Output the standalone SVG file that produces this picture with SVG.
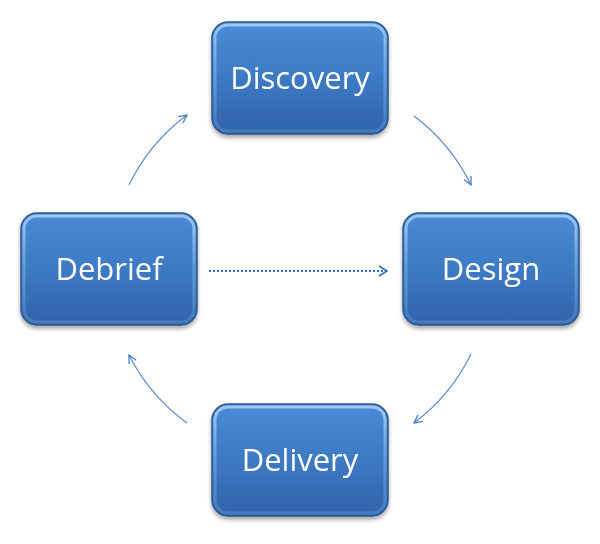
<svg xmlns="http://www.w3.org/2000/svg" width="600" height="544" viewBox="0 0 600 544">
<defs>
<linearGradient id="fill" x1="0" y1="0" x2="0" y2="1">
<stop offset="0" stop-color="#4a8ad6"/>
<stop offset="0.5" stop-color="#3d7ac4"/>
<stop offset="1" stop-color="#3063a9"/>
</linearGradient>
<linearGradient id="bevel" x1="0" y1="0" x2="0" y2="1">
<stop offset="0" stop-color="#a6cdf2" stop-opacity="0.9"/>
<stop offset="0.5" stop-color="#78aee6" stop-opacity="0.6"/>
<stop offset="1" stop-color="#5a90d0" stop-opacity="0.5"/>
</linearGradient>
<filter id="sh" x="-10%" y="-10%" width="120%" height="130%">
<feGaussianBlur in="SourceAlpha" stdDeviation="2"/>
<feOffset dy="3" result="b"/>
<feComponentTransfer><feFuncA type="linear" slope="0.35"/></feComponentTransfer>
<feMerge><feMergeNode/><feMergeNode in="SourceGraphic"/></feMerge>
</filter>
<marker id="arr" viewBox="0 0 10 10" refX="9" refY="5" markerWidth="10" markerHeight="10" markerUnits="userSpaceOnUse" orient="auto">
<path d="M1,1 L9,5 L1,9" fill="none" stroke="#4a7ec2" stroke-width="1.3"/>
</marker>
</defs>
<style>
.box{fill:url(#fill);stroke:#2b5791;stroke-width:1.5}
.bev{fill:none;stroke:url(#bevel);stroke-width:3}
.lbl{font-family:"Open Sans","Liberation Sans",sans-serif;font-size:31px;fill:#ffffff;text-anchor:middle}
.con{fill:none;stroke:#5b8bcb;stroke-width:1.2}
.dot{fill:none;stroke:#2e6cc0;stroke-width:2;stroke-dasharray:2 2}
</style>
<g id="connectors">
<path class="con" d="M129,185 A191,191 0 0 1 187,115" marker-end="url(#arr)"/>
<path class="con" d="M414,116 A191,191 0 0 1 471,185" marker-end="url(#arr)"/>
<path class="con" d="M471,354 A191,191 0 0 1 414,423" marker-end="url(#arr)"/>
<path class="con" d="M187,423 A191,191 0 0 1 129,355" marker-end="url(#arr)"/>
<path class="dot" d="M209,271 L386,271"/>
<path d="M379,266 L387,271 L379,276" fill="none" stroke="#2e6cc0" stroke-width="1.5"/>
</g>
<g id="discovery" filter="url(#sh)">
<rect class="box" x="212" y="22" width="176" height="112" rx="16"/>
<rect class="bev" x="215" y="25" width="170" height="106" rx="13"/>
<text class="lbl" x="300" y="89">Discovery</text>
</g>
<g id="debrief" filter="url(#sh)">
<rect class="box" x="21" y="213" width="176" height="112" rx="16"/>
<rect class="bev" x="24" y="216" width="170" height="106" rx="13"/>
<text class="lbl" x="109" y="280">Debrief</text>
</g>
<g id="design" filter="url(#sh)">
<rect class="box" x="403" y="213" width="176" height="112" rx="16"/>
<rect class="bev" x="406" y="216" width="170" height="106" rx="13"/>
<text class="lbl" x="491" y="280">Design</text>
</g>
<g id="delivery" filter="url(#sh)">
<rect class="box" x="212" y="404" width="176" height="112" rx="16"/>
<rect class="bev" x="215" y="407" width="170" height="106" rx="13"/>
<text class="lbl" x="300" y="471">Delivery</text>
</g>
</svg>
